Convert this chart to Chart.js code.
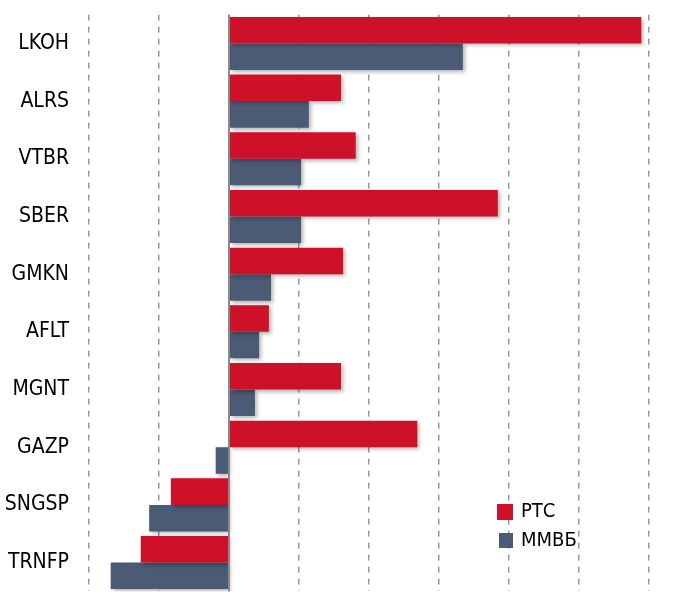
<!DOCTYPE html>
<html>
<head>
<meta charset="utf-8">
<script src="https://cdn.jsdelivr.net/npm/chart.js@4"></script>
<style>
  html, body { margin: 0; padding: 0; background: #fff; overflow: hidden; }
  #wrap { width: 683px; height: 642px; margin-top: -18px; }
</style>
</head>
<body>
<div id="wrap"><canvas id="chart"></canvas></div>
<script>
const tickers = ['LKOH', 'ALRS', 'VTBR', 'SBER', 'GMKN', 'AFLT', 'MGNT', 'GAZP', 'SNGSP', 'TRNFP'];
const rts = [5.89, 1.6, 1.81, 3.84, 1.63, 0.57, 1.6, 2.69, -0.83, -1.26];
const micex = [3.34, 1.14, 1.03, 1.03, 0.6, 0.43, 0.37, -0.19, -1.14, -1.69];
const seriesNames = ['РТС', 'ММВБ'];
const colors = ['#CE1128', '#4B5A75'];

const font = "'DejaVu Sans Condensed', 'DejaVu Sans', sans-serif";
const shift = 18; // canvas is pulled up by this much

// soft shadow under the bars + solid zero line + legend placed inside the plot
const extras = {
  id: 'extras',
  beforeDatasetsDraw(chart) {
    const c = chart.ctx;
    c.save();
    c.shadowColor = 'rgba(0,0,0,0.3)';
    c.shadowBlur = 4;
    c.shadowOffsetX = 2;
    c.shadowOffsetY = 2;
  },
  afterDatasetsDraw(chart) {
    const c = chart.ctx;
    c.restore();
    const x0 = chart.scales.x.getPixelForValue(0);
    c.save();
    c.strokeStyle = '#8a8a8a';
    c.lineWidth = 2;
    c.beginPath();
    c.moveTo(x0, chart.chartArea.top);
    c.lineTo(x0, chart.chartArea.bottom);
    c.stroke();
    c.restore();
  },
  afterDraw(chart) {
    const c = chart.ctx;
    c.save();
    c.font = '20px ' + font;
    c.textBaseline = 'middle';
    chart.data.datasets.forEach((ds, i) => {
      const y = 512 + shift + i * 29;
      c.fillStyle = ds.backgroundColor;
      c.fillRect(497 + i * 2, y - 8, 16 - i * 2, 16 - i);
      c.fillStyle = '#000';
      c.fillText(ds.label, 521, y);
    });
    c.restore();
  }
};

new Chart(document.getElementById('chart'), {
  type: 'bar',
  data: {
    labels: tickers,
    datasets: [
      { label: seriesNames[0], data: rts, backgroundColor: colors[0] },
      { label: seriesNames[1], data: micex, backgroundColor: colors[1] }
    ]
  },
  options: {
    indexAxis: 'y',
    responsive: true,
    maintainAspectRatio: false,
    animation: false,
    categoryPercentage: 0.92,
    barPercentage: 1,
    layout: { padding: { top: 0, right: 34, bottom: 0, left: 0 } },
    plugins: {
      legend: { display: false },
      tooltip: { enabled: false }
    },
    scales: {
      x: {
        min: -2,
        max: 6,
        ticks: { display: false, stepSize: 1 },
        border: { display: false, dash: [6, 6] },
        grid: {
          drawTicks: false,
          lineWidth: 1.5,
          color: ctx => ctx.tick && ctx.tick.value === 0 ? 'rgba(0,0,0,0)' : '#9a9a9a'
        }
      },
      y: {
        afterFit: s => { s.width = 89; },
        border: { display: false },
        grid: { display: false, drawTicks: false },
        ticks: {
          padding: 20,
          color: '#000',
          font: { family: font, size: 21 }
        }
      }
    }
  },
  plugins: [extras]
});
</script>
</body>
</html>
